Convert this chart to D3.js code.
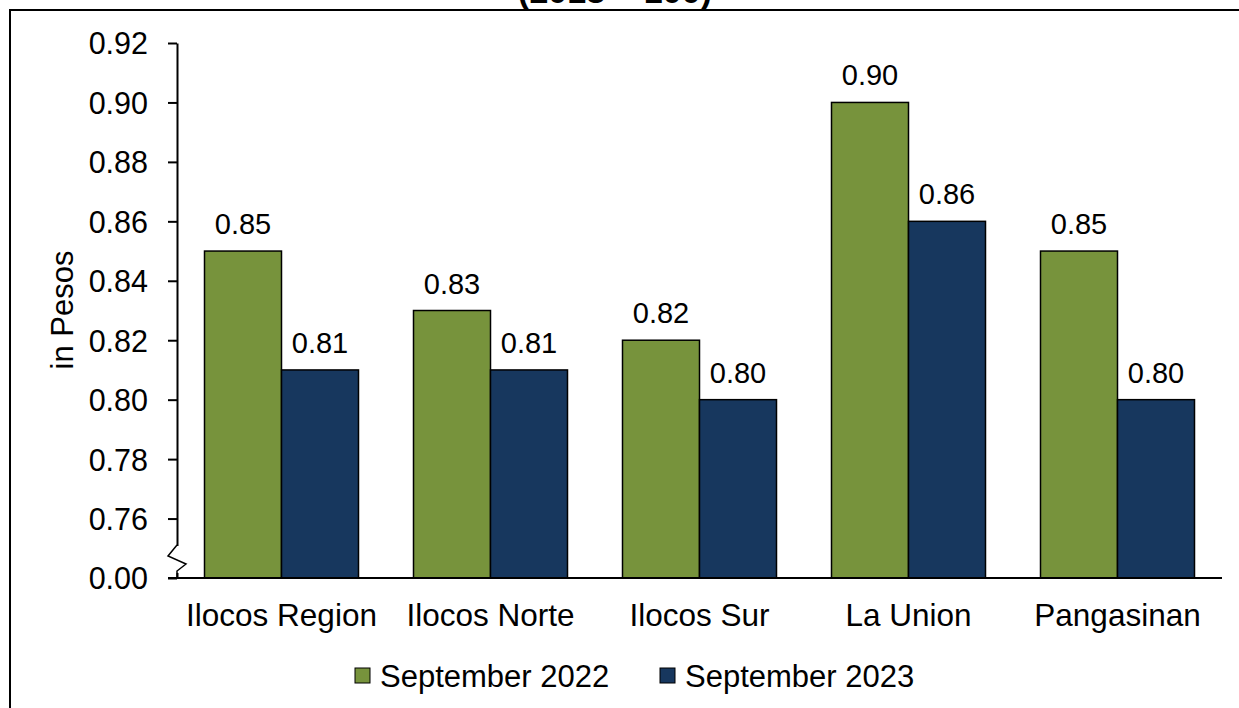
<!DOCTYPE html>
<html>
<head>
<meta charset="utf-8">
<script src="https://cdn.jsdelivr.net/npm/d3@7"></script>
<style>
  body { margin: 0; background: #fff; }
  svg text { font-family: Arial, "Liberation Sans", sans-serif; fill: #000; }
</style>
</head>
<body>
<svg id="chart" width="1239" height="708"></svg>
<script>
var categories = ['Ilocos Region', 'Ilocos Norte', 'Ilocos Sur', 'La Union', 'Pangasinan'],
    seriesNames = ['September 2022', 'September 2023'],
    sep2022 = [0.85, 0.83, 0.82, 0.90, 0.85],
    sep2023 = [0.81, 0.81, 0.80, 0.86, 0.80],
    yTickValues = [0.74, 0.76, 0.78, 0.80, 0.82, 0.84, 0.86, 0.88, 0.90, 0.92],
    yTickLabels = ['0.00', '0.76', '0.78', '0.80', '0.82', '0.84', '0.86', '0.88', '0.90', '0.92'],
    colors = ['#77933C', '#17375E'];

(function () {
  var svg = d3.select('#chart'),
      plotLeft = 177, plotRight = 1222, plotTop = 43, plotBottom = 578,
      seriesValues = [sep2022, sep2023];

  // cut-off title and chart frame
  svg.append('text')
    .attr('x', 615).attr('y', 3)
    .attr('text-anchor', 'middle')
    .style('font-size', '34px').style('font-weight', 'bold')
    .text('(2018 = 100)');

  svg.append('path')
    .attr('d', 'M10,720V10H1250')
    .attr('fill', 'none').attr('stroke', '#000').attr('stroke-width', 2);

  var y = d3.scaleLinear().domain([0.74, 0.92]).range([plotBottom, plotTop]);
  var x0 = d3.scaleBand().domain(categories).range([plotLeft, plotRight]);
  var x1 = d3.scaleBand().domain(seriesNames).range([27.5, x0.bandwidth() - 27.5]);

  // y axis
  var yAxis = svg.append('g')
    .attr('transform', 'translate(' + plotLeft + ',0)')
    .call(d3.axisLeft(y)
      .tickValues(yTickValues)
      .tickSize(9)
      .tickSizeOuter(0)
      .tickPadding(20)
      .tickFormat(function (d, i) { return yTickLabels[i]; }));
  yAxis.selectAll('path, line').attr('stroke', '#000').attr('stroke-width', 2);
  yAxis.selectAll('text').style('font-size', '30.5px').attr('fill', '#000').attr('dy', '0.36em');

  // axis break
  svg.append('rect').attr('x', 165).attr('y', 546).attr('width', 24).attr('height', 27).attr('fill', '#fff');
  svg.append('path')
    .attr('d', 'M177,545L168,556L186,564L177,571L177,578')
    .attr('fill', 'none').attr('stroke', '#000').attr('stroke-width', 1.5);

  svg.append('text')
    .attr('transform', 'translate(73,310) rotate(-90)')
    .attr('text-anchor', 'middle')
    .style('font-size', '31px')
    .text('in Pesos');

  // bars
  var groups = svg.selectAll('g.cat')
    .data(categories)
    .enter().append('g')
    .attr('class', 'cat')
    .attr('transform', function (d) { return 'translate(' + x0(d) + ',0)'; });

  seriesNames.forEach(function (name, s) {
    groups.append('rect')
      .attr('x', x1(name))
      .attr('y', function (d, i) { return y(seriesValues[s][i]); })
      .attr('width', x1.bandwidth())
      .attr('height', function (d, i) { return plotBottom - y(seriesValues[s][i]); })
      .attr('fill', colors[s])
      .attr('stroke', '#000').attr('stroke-width', 1.5);

    groups.append('text')
      .attr('x', x1(name) + x1.bandwidth() / 2)
      .attr('y', function (d, i) { return y(seriesValues[s][i]) - 17; })
      .attr('text-anchor', 'middle')
      .style('font-size', '29px')
      .text(function (d, i) { return seriesValues[s][i].toFixed(2); });
  });

  // x axis
  var xAxis = svg.append('g')
    .attr('transform', 'translate(0,' + plotBottom + ')')
    .call(d3.axisBottom(x0).tickSize(0));
  xAxis.select('path').attr('d', 'M' + (plotLeft - 9) + ',0H' + plotRight).attr('stroke', '#000').attr('stroke-width', 2);
  xAxis.selectAll('text').style('font-size', '31.5px').attr('fill', '#000').attr('y', 48).attr('dy', 0);

  // legend
  var legend = svg.append('g').attr('transform', 'translate(355,668)');
  var legendX = [0, 305];
  seriesNames.forEach(function (name, s) {
    legend.append('rect')
      .attr('x', legendX[s]).attr('y', 0)
      .attr('width', 15).attr('height', 15)
      .attr('fill', colors[s]).attr('stroke', '#000').attr('stroke-width', 1);
    legend.append('text')
      .attr('x', legendX[s] + 25).attr('y', 18.5)
      .style('font-size', '31px')
      .text(name);
  });
})();
</script>
</body>
</html>
